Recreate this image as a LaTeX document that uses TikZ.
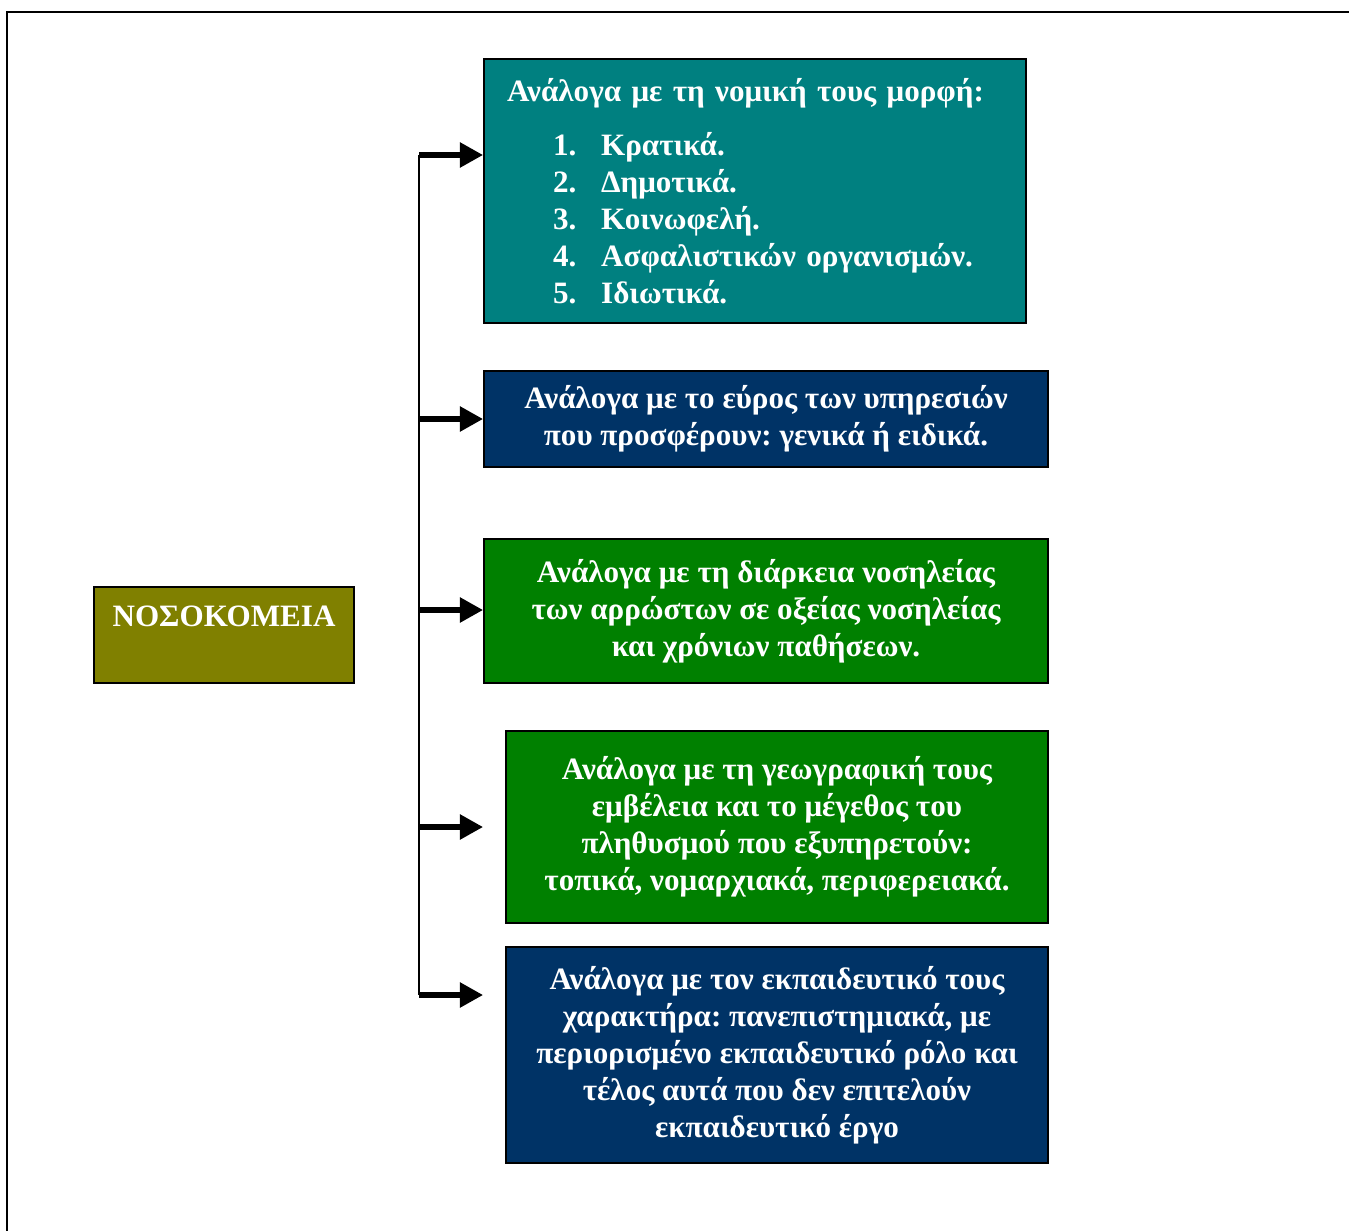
\documentclass[tikz,border=0pt]{standalone}
\usepackage{fontspec}
\setmainfont{Liberation Serif}
\usetikzlibrary{arrows.meta}

\definecolor{boxteal}{HTML}{008080}
\definecolor{boxnavy}{HTML}{003366}
\definecolor{boxgreen}{HTML}{008000}
\definecolor{boxolive}{HTML}{808000}

\tikzset{
	catbox/.style={draw=black, line width=0.75pt, text=white, inner xsep=8pt,
		font=\fontsize{11.6}{13.8}\selectfont\bfseries\frenchspacing, align=center},
	busarrow/.style={line width=1.9pt, -{Triangle[length=8.6pt,width=9pt]}}
}

\begin{document}
\begin{tikzpicture}[x=0.3731pt, y=-0.3731pt]
\useasboundingbox (0,0) rectangle (1349,1231);
\draw[line width=1.1pt] (1349,12) -- (7,12) -- (7,1231);

\node[catbox, fill=boxolive, inner xsep=3pt, minimum width=97pt, minimum height=35.8pt] (root) at (224,635)
	{ΝΟΣΟΚΟΜΕΙΑ\\ \mbox{}};

\node[catbox, fill=boxteal, align=left, inner xsep=8.6pt, text width=185pt, minimum height=98.5pt] (legal) at (755,191)
	{Ανάλογα με τη νομική τους μορφή:\\[6.5pt]
	\hspace*{17.2pt}\makebox[17.9pt][l]{1.}Κρατικά.\\
	\hspace*{17.2pt}\makebox[17.9pt][l]{2.}Δημοτικά.\\
	\hspace*{17.2pt}\makebox[17.9pt][l]{3.}Κοινωφελή.\\
	\hspace*{17.2pt}\makebox[17.9pt][l]{4.}Ασφαλιστικών οργανισμών.\\
	\hspace*{17.2pt}\makebox[17.9pt][l]{5.}Ιδιωτικά.};

\node[catbox, fill=boxnavy, minimum width=210.4pt, minimum height=35.8pt] (range) at (766,419)
	{Ανάλογα με το εύρος των υπηρεσιών\\ που προσφέρουν: γενικά ή ειδικά.};

\node[catbox, fill=boxgreen, minimum width=210.4pt, minimum height=53.7pt] (stay) at (766,611)
	{Ανάλογα με τη διάρκεια νοσηλείας\\ των αρρώστων σε οξείας νοσηλείας\\ και χρόνιων παθήσεων.};

\node[catbox, fill=boxgreen, minimum width=202.2pt, minimum height=71.6pt] (geo) at (777,827)
	{Ανάλογα με τη γεωγραφική τους\\ εμβέλεια και το μέγεθος του\\ πληθυσμού που εξυπηρετούν:\\ τοπικά, νομαρχιακά, περιφερειακά.};

\node[catbox, fill=boxnavy, minimum width=202.2pt, minimum height=80.6pt] (edu) at (777,1055)
	{Ανάλογα με τον εκπαιδευτικό τους\\ χαρακτήρα: πανεπιστημιακά, με\\ περιορισμένο εκπαιδευτικό ρόλο και\\ τέλος αυτά που δεν επιτελούν\\ εκπαιδευτικό έργο};

% bus and arrows
\foreach \y [count=\i] in {155,419,610,827,995} {
	\coordinate (bus\i) at (419,\y);
	\coordinate (tip\i) at (483,\y);
	\draw[busarrow] (bus\i) -- (tip\i);
}
\draw[line width=0.75pt] (bus1) -- (bus5);
\end{tikzpicture}
\end{document}
